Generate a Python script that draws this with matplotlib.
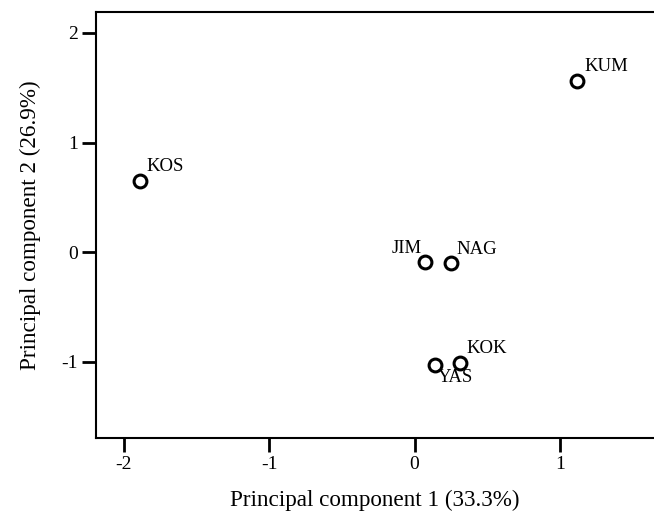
import matplotlib
matplotlib.use("Agg")
import matplotlib.pyplot as plt

# PCA scores
sites = ["KOS", "KUM", "JIM", "NAG", "KOK", "YAS"]
pc1 = [-1.89, 1.12, 0.07, 0.25, 0.31, 0.14]
pc2 = [0.65, 1.56, -0.085, -0.10, -1.01, -1.03]

# label offsets in points (dx, dy, ha, va)
offsets = {
    "KOS": (5, 7, "left", "baseline"),
    "KUM": (5, 7, "left", "baseline"),
    "JIM": (-2, 6, "right", "baseline"),
    "NAG": (4, 7, "left", "baseline"),
    "KOK": (5, 7, "left", "baseline"),
    "YAS": (2, -3, "left", "top"),
}

plt.rcParams["font.family"] = ["Liberation Serif", "DejaVu Serif"]

fig = plt.figure(figsize=(6.54, 5.15), dpi=100)
ax = fig.add_axes([96 / 654, 1 - 437.7 / 515, 1 - 96 / 654, (437.7 - 12) / 515])

ax.scatter(pc1, pc2, s=85, facecolors="white", edgecolors="black",
           linewidths=2.2, zorder=3)
for name, x, y in zip(sites, pc1, pc2):
    dx, dy, ha, va = offsets[name]
    ax.annotate(name, (x, y), xytext=(dx, dy), textcoords="offset points",
                ha=ha, va=va, fontsize=13.5)

ax.set_xlim(-2.19, 1.646)
ax.set_ylim(-1.69, 2.19)
ax.set_xticks([-2, -1, 0, 1])
ax.set_yticks([-1, 0, 1, 2])
ax.set_xticklabels(["-2", "-1", "0", "1"])
ax.set_yticklabels(["-1", "0", "1", "2"])
ax.tick_params(direction="out", length=10, width=2, labelsize=14)
ax.tick_params(axis="x", pad=3)
ax.tick_params(axis="y", pad=3)
for side in ["left", "bottom", "top"]:
    ax.spines[side].set_linewidth(1.5)
ax.spines["right"].set_visible(False)

ax.set_xlabel("Principal component 1 (33.3%)", fontsize=16.7, labelpad=12)
ax.set_ylabel("Principal component 2 (26.9%)", fontsize=16.7, labelpad=15)

fig.savefig("out.png", dpi=100)
